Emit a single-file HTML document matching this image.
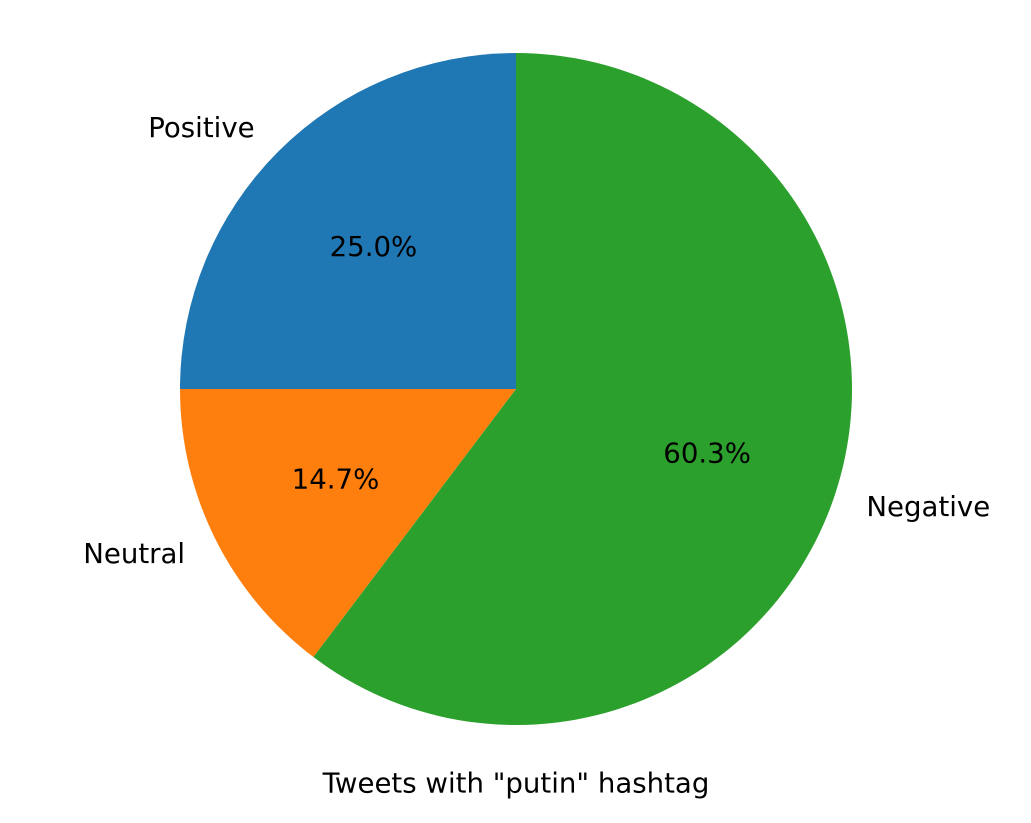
<!DOCTYPE html>
<html><head><meta charset="utf-8"><style>
html,body{margin:0;padding:0;background:#fff;}
svg text{font-family:"DejaVu Sans","Liberation Sans",sans-serif;font-size:27.6px;fill:#000;}
</style></head><body>
<svg id="chart" width="1031" height="818" viewBox="0 0 1031 818" xmlns="http://www.w3.org/2000/svg">
<g id="slices"></g>
<g id="labels"></g>
<text x="516" y="783" text-anchor="middle" dominant-baseline="central">Tweets with "putin" hashtag</text>
</svg>
<script>
const categories = ["Positive", "Neutral", "Negative"];
const values = [25.0, 14.7, 60.3];
const colors = ["#1f77b4", "#ff7f0e", "#2ca02c"];
const cx = 516, cy = 389, r = 336;
const ns = "http://www.w3.org/2000/svg";
const gS = document.getElementById('slices'), gL = document.getElementById('labels');
const total = values.reduce((a,b)=>a+b,0);
let a = 90;
function pt(deg, rr){const t=deg*Math.PI/180;return [cx+rr*Math.cos(t), cy-rr*Math.sin(t)];}
values.forEach((v,i)=>{
  const span = v/total*360, a2 = a+span;
  const p1 = pt(a,r), p2 = pt(a2,r);
  const path = document.createElementNS(ns,'path');
  path.setAttribute('d',`M${cx},${cy} L${p1[0]},${p1[1]} A${r},${r} 0 ${span>180?1:0} 0 ${p2[0]},${p2[1]} Z`);
  path.setAttribute('fill',colors[i]);
  
  
  gS.appendChild(path);
  const mid = (a+a2)/2;
  const lp = pt(mid, r*1.1);
  const c = Math.cos(mid*Math.PI/180);
  const t = document.createElementNS(ns,'text');
  t.setAttribute('x',lp[0]); t.setAttribute('y',lp[1]);
  t.setAttribute('text-anchor', c<0?'end':'start');
  t.setAttribute('dominant-baseline','central');
  t.textContent = categories[i];
  
  
  gL.appendChild(t);
  const pp = pt(mid, r*0.6);
  const t2 = document.createElementNS(ns,'text');
  t2.setAttribute('x',pp[0]); t2.setAttribute('y',pp[1]);
  t2.setAttribute('text-anchor','middle');
  t2.setAttribute('dominant-baseline','central');
  t2.textContent = v.toFixed(1)+'%';
  
  
  gL.appendChild(t2);
  a = a2;
});
</script>
</body></html>
